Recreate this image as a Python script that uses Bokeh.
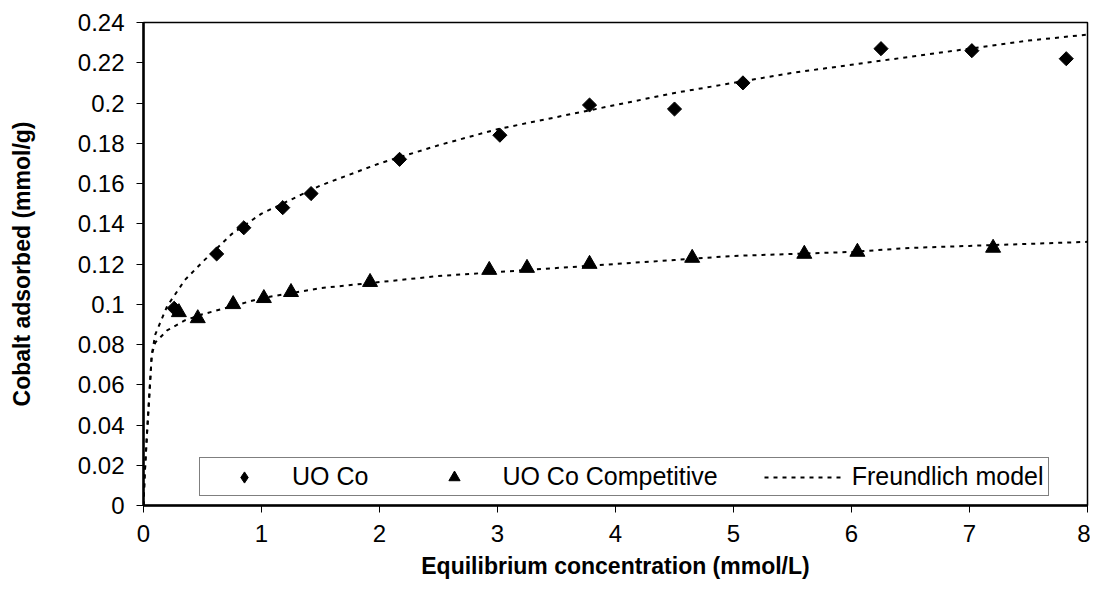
from bokeh.plotting import figure
from bokeh.models import Range1d, FixedTicker, Legend, LegendItem
from bokeh.embed import file_html
from bokeh.resources import INLINE

# Measured data
uo_x = [0.26, 0.62, 0.85, 1.18, 1.42, 2.17, 3.02, 3.78, 4.50, 5.08, 6.25, 7.02, 7.82]
uo_y = [0.098, 0.125, 0.138, 0.148, 0.155, 0.172, 0.184, 0.199, 0.197, 0.210, 0.227, 0.226, 0.222]

comp_x = [0.30, 0.46, 0.76, 1.02, 1.25, 1.92, 2.93, 3.25, 3.78, 4.65, 5.60, 6.05, 7.20]
comp_y = [0.096, 0.093, 0.100, 0.103, 0.106, 0.111, 0.117, 0.118, 0.120, 0.123, 0.125, 0.126, 0.128]

# Freundlich model curves
fit_x = [0, 0.01, 0.03, 0.07, 0.1, 0.2, 0.35, 0.5, 0.75, 1.0, 1.5, 2.0, 2.5, 3.0, 3.5,
         4.0, 4.5, 5.0, 5.5, 6.0, 6.5, 7.0, 7.5, 8.0]
fit_uo = [0, 0.015, 0.036, 0.075, 0.085, 0.099, 0.112, 0.121, 0.135, 0.145, 0.159, 0.170,
          0.179, 0.187, 0.193, 0.199, 0.205, 0.210, 0.215, 0.219, 0.223, 0.227, 0.231, 0.234]
fit_comp = [0, 0.015, 0.036, 0.075, 0.081, 0.087, 0.092, 0.095, 0.099, 0.103, 0.108, 0.111,
            0.114, 0.116, 0.118, 0.120, 0.122, 0.124, 0.125, 0.126, 0.128, 0.129, 0.130, 0.131]

x_ticks = [0, 1, 2, 3, 4, 5, 6, 7, 8]
y_ticks = [0, 0.02, 0.04, 0.06, 0.08, 0.1, 0.12, 0.14, 0.16, 0.18, 0.2, 0.22, 0.24]
y_labels = ["0", "0.02", "0.04", "0.06", "0.08", "0.1", "0.12", "0.14", "0.16", "0.18", "0.2", "0.22", "0.24"]

FONT = "Liberation Sans"

p = figure(width=1090, height=585, output_backend="svg", toolbar_location=None,
           x_range=Range1d(0, 8), y_range=Range1d(0, 0.24),
           min_border_left=143, min_border_right=3, min_border_top=22, min_border_bottom=80)
p.background_fill_color = "white"
p.border_fill_color = "white"
p.outline_line_color = "black"
p.outline_line_width = 1.5
p.xgrid.visible = False
p.ygrid.visible = False

for ax in (p.xaxis[0], p.yaxis[0]):
    ax.axis_line_width = 2.5
    ax.axis_line_color = "black"
    ax.major_tick_out = 7
    ax.major_tick_in = 0
    ax.major_tick_line_color = "black"
    ax.major_tick_line_width = 1
    ax.minor_tick_out = 0
    ax.minor_tick_in = 0
    ax.major_label_text_font = FONT
    ax.major_label_text_font_size = "24px"
    ax.major_label_text_color = "black"
    ax.axis_label_text_font = FONT
    ax.axis_label_text_font_size = "23px"
    ax.axis_label_text_font_style = "bold"
    ax.axis_label_text_color = "black"

p.xaxis.ticker = FixedTicker(ticks=x_ticks)
p.yaxis.ticker = FixedTicker(ticks=y_ticks)
p.yaxis.major_label_overrides = {t: l for t, l in zip(y_ticks, y_labels)}
p.xaxis.axis_label = "Equilibrium concentration (mmol/L)"
p.yaxis.axis_label = "Cobalt adsorbed (mmol/g)"
p.xaxis.major_label_standoff = 12
p.yaxis.major_label_standoff = 12
p.xaxis.axis_label_standoff = 8
p.yaxis.axis_label_standoff = 40

l1 = p.line(fit_x, fit_uo, line_color="black", line_width=2, line_dash="4 5")
l2 = p.line(fit_x, fit_comp, line_color="black", line_width=2, line_dash="4 5")
s1 = p.scatter(uo_x, uo_y, marker="square", angle=0.785398, size=10,
               fill_color="black", line_color="black")
s2 = p.scatter(comp_x, comp_y, marker="triangle", size=15,
               fill_color="black", line_color="black")
# legend-only renderer so the legend shows a diamond shape
s1_leg = p.scatter(uo_x, uo_y, marker="diamond", size=14,
                   fill_color="black", line_color="black", visible=False)

legend = Legend(items=[LegendItem(label="UO Co", renderers=[s1_leg]),
                       LegendItem(label="UO Co Competitive", renderers=[s2]),
                       LegendItem(label="Freundlich model", renderers=[l1])],
                orientation="horizontal", location=(56, 9), click_policy="none")
legend.label_text_font = FONT
legend.label_text_font_size = "25px"
legend.label_text_color = "black"
legend.border_line_color = "black"
legend.border_line_width = 1.5
legend.background_fill_color = "white"
legend.background_fill_alpha = 1
legend.glyph_width = 80
legend.glyph_height = 28
legend.label_standoff = 8
legend.spacing = 46
legend.padding = 4
legend.margin = 0
p.add_layout(legend, "center")

open("out.html", "w").write(file_html(p, INLINE))
